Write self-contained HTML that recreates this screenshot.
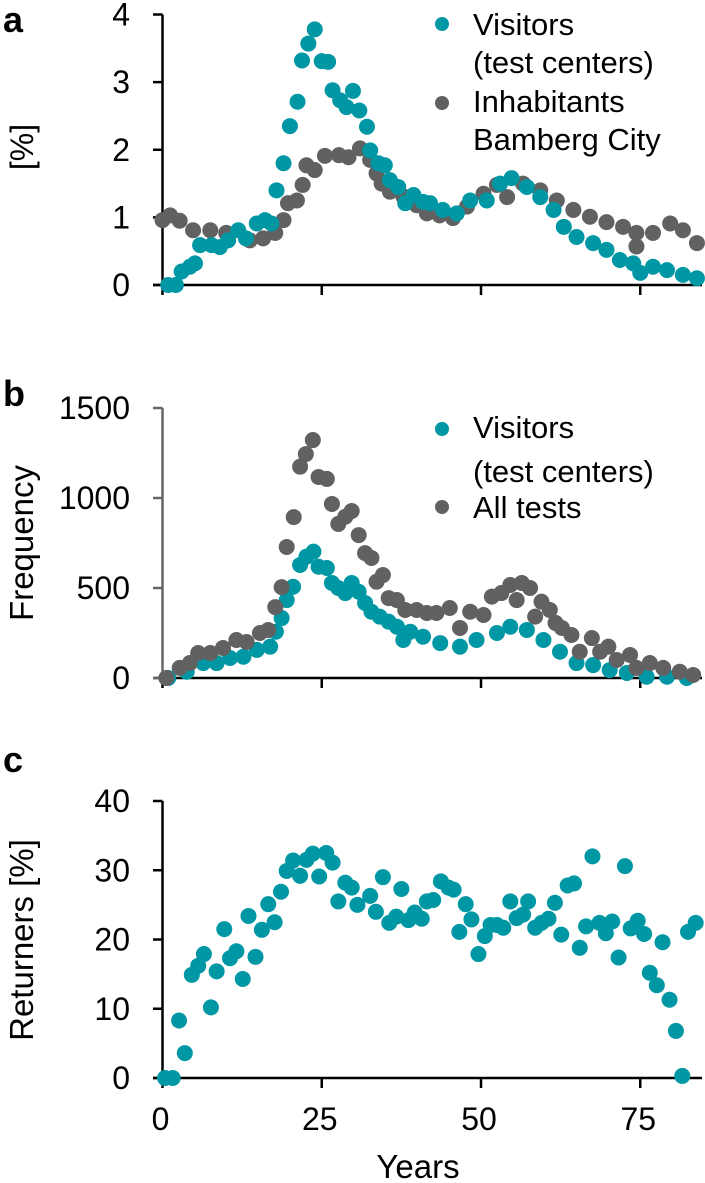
<!DOCTYPE html>
<html><head><meta charset="utf-8"><style>
body{margin:0;background:#fff;}
svg{display:block;font-family:"Liberation Sans",Arial,sans-serif;}
</style></head><body>
<svg id="fig" width="705" height="1183" viewBox="0 0 705 1183">
<text x="3" y="32" font-size="36" font-weight="bold">a</text>
<text x="3" y="406" font-size="36" font-weight="bold">b</text>
<text x="3" y="772" font-size="36" font-weight="bold">c</text>
<text transform="translate(33,147) rotate(-90)" text-anchor="middle" font-size="32">[%]</text>
<text transform="translate(33,543) rotate(-90)" text-anchor="middle" font-size="33">Frequency</text>
<text transform="translate(33,940) rotate(-90)" text-anchor="middle" font-size="33">Returners [%]</text>
<text x="418" y="1178" text-anchor="middle" font-size="33">Years</text>
<g>
<circle cx="442" cy="24" r="7" fill="#0097a4"/>
<text x="473" y="35" font-size="31">Visitors</text>
<text x="473" y="73" font-size="31">(test centers)</text>
<circle cx="442" cy="103" r="7" fill="#616161"/>
<text x="473" y="112" font-size="31">Inhabitants</text>
<text x="473" y="150" font-size="31">Bamberg City</text>
</g>
<g>
<circle cx="442" cy="429" r="7" fill="#0097a4"/>
<text x="473" y="438" font-size="31">Visitors</text>
<text x="473" y="482" font-size="31">(test centers)</text>
<circle cx="442" cy="507" r="7" fill="#616161"/>
<text x="473" y="518" font-size="31">All tests</text>
</g>
<g id="plots"></g>
</svg>
<script>
// Panel a
const aTealX=[0.9,2.1,3,4.3,5.1,5.9,7.7,9.0,10.3,11.9,13.1,14.8,16.1,17.1,17.9,19.0,20.0,21.2,21.9,22.9,23.9,25.0,26.0,26.7,27.9,28.9,29.9,30.9,32.1,32.6,33.9,34.9,35.7,37.0,38.1,39.4,40.9,42,44,46.2,48.3,50.9,53,54.8,57.2,59.3,61.4,63,65,67.6,69.7,71.8,73.9,75,77,79.2,81.7,83.9];
const aTealY=[0,0,0.2,0.27,0.32,0.59,0.59,0.56,0.66,0.81,0.69,0.91,0.96,0.91,1.40,1.80,2.35,2.71,3.32,3.57,3.78,3.31,3.30,2.88,2.73,2.63,2.87,2.58,2.34,1.99,1.80,1.77,1.55,1.45,1.21,1.33,1.23,1.21,1.11,1.06,1.25,1.25,1.50,1.58,1.45,1.30,1.11,0.86,0.71,0.62,0.52,0.37,0.32,0.18,0.27,0.22,0.15,0.10];
const aGrayX=[0,1.2,2.7,4.8,7.5,10,13.7,15.8,17.7,19,19.7,21.1,22,22.6,23.9,25.5,27.7,29.2,31,32.6,33.6,34.4,35.7,37.8,39.9,41.5,43.5,45.6,47.8,50.4,52.5,54.1,56.6,59.3,61.9,64.5,67.1,69.7,72.3,74.4,74.4,77,79.7,81.7,83.9];
const aGrayY=[0.96,1.03,0.95,0.81,0.81,0.77,0.66,0.69,0.77,0.96,1.21,1.25,1.48,1.77,1.70,1.91,1.92,1.89,2.02,1.85,1.65,1.50,1.38,1.31,1.18,1.06,1.03,0.99,1.16,1.35,1.48,1.30,1.50,1.40,1.25,1.11,1.01,0.93,0.86,0.57,0.77,0.77,0.91,0.81,0.62];
const aTicks=[0,1,2,3,4];
// Panel b
const bGrayX=[0.6,2.7,4.3,5.6,7.5,9.5,11.6,13.2,15.3,16.6,17.7,18.7,19.5,20.6,21.6,22.5,23.6,24.5,25.8,26.6,27.6,28.7,29.7,30.8,31.8,32.8,33.6,34.6,35.5,36.8,38.1,39.9,41.5,43,45.1,46.7,48.3,50.4,51.7,53.2,54.6,55.6,56.4,57.7,58.5,59.5,60.8,61.7,62.7,64.2,65.5,67.4,68.7,70,71.3,73.4,74.4,76.5,78.6,81.2,83.3];
const bGrayY=[0,56,83,139,139,167,211,200,250,267,394,505,728,894,1174,1244,1322,1117,1106,967,856,896,928,794,694,667,535,572,444,433,378,378,361,361,389,278,368,350,452,472,517,433,528,500,341,424,378,306,278,239,146,222,146,174,100,128,56,83,56,35,17];
const bTealX=[0.9,3.8,6.4,8.5,10.6,12.7,14.8,16.9,17.8,18.7,19.5,20.5,21.6,22.6,23.7,24.5,25.8,26.6,27.6,28.7,29.7,30.8,31.8,32.8,34.1,35.5,36.8,37.8,38.9,40.9,43.6,46.7,49.3,52.5,54.6,57.2,59.8,62.4,65,67.6,70.2,72.9,76,79.2,82.3];
const bTealY=[0,35,83,83,111,118,156,174,257,333,433,507,628,674,702,618,611,528,500,472,528,479,417,368,341,313,285,211,257,229,194,174,211,250,285,267,211,146,83,72,44,28,7,7,0];
const bTicks=[0,500,1000,1500];
// Panel c
const cX=[0.4,1.6,2.6,3.5,4.6,5.6,6.5,7.6,8.5,9.7,10.6,11.6,12.6,13.5,14.6,15.6,16.6,17.6,18.6,19.5,20.5,21.6,22.6,23.6,24.6,25.7,26.7,27.6,28.7,29.7,30.6,32.6,33.5,34.6,35.6,36.7,37.5,38.6,39.6,40.7,41.5,42.5,43.7,44.9,45.7,46.6,47.6,48.5,49.6,50.6,51.5,52.5,53.5,54.6,55.6,56.6,57.4,58.5,59.5,60.6,61.6,62.6,63.6,64.6,65.5,66.5,67.5,68.6,69.6,70.6,71.6,72.6,73.5,74.6,75.6,76.5,77.6,78.5,79.6,80.6,81.6,82.5,83.7];
const cY=[0,0,8.3,3.6,14.9,16.2,17.9,10.2,15.4,21.5,17.3,18.3,14.3,23.4,17.5,21.4,25.1,22.5,26.9,29.9,31.4,29.2,31.5,32.4,29.1,32.5,31.1,25.5,28.2,27.5,25.0,26.3,24.0,29.0,22.4,23.3,27.3,22.8,23.9,23.0,25.5,25.7,28.4,27.5,27.2,21.1,25.1,22.9,17.9,20.5,22.1,22.1,21.7,25.5,23.1,23.6,25.5,21.7,22.4,23.0,25.3,20.7,27.8,28.1,18.8,21.9,32.0,22.4,20.9,22.6,17.4,30.6,21.6,22.7,20.8,15.2,13.4,19.6,11.3,6.8,0.3,21.1,22.4];
const cTicks=[0,10,20,30,40];
const xTicks=[0,25,50,75];

const NS="http://www.w3.org/2000/svg";
const root=document.getElementById('plots');
const TEAL="#0097a4", GRAY="#616161";
function xs(v){return 162.5+6.37*v;}
function mk(tag,attrs,parent){const e=document.createElementNS(NS,tag);for(const k in attrs)e.setAttribute(k,attrs[k]);(parent||root).appendChild(e);return e;}
function panel(id,y0,y1,vmax,ticks,yAxisColor,showXLabels){
  const ys=v=>y0-(y0-y1)*v/vmax;
  const g=mk('g',{});
  
  
  const ya=mk('line',{x1:162.5,x2:162.5,y1:y1,y2:y0,stroke:yAxisColor,'stroke-width':2.5},g);
  
  
  const xa=mk('line',{x1:153,x2:702,y1:y0,y2:y0,stroke:'#000','stroke-width':2.5},g);
  
  
  ticks.forEach(t=>{
    mk('line',{x1:153,x2:162.5,y1:ys(t),y2:ys(t),stroke:yAxisColor,'stroke-width':2.5},g);
    const tx=mk('text',{x:130,y:ys(t)+11,'text-anchor':'end','font-size':32},g);
    tx.textContent=t;
    
    
  });
  xTicks.forEach(t=>{
    mk('line',{x1:xs(t),x2:xs(t),y1:y0,y2:y0+10,stroke:'#000','stroke-width':2.5},g);
    if(showXLabels){
      const tx=mk('text',{x:xs(t)-2,y:y0+52,'text-anchor':'middle','font-size':32},g);
      tx.textContent=t;
      
      
    }
  });
  return {g,ys};
}
function dots(p,X,Y,color,name,r){
  for(let i=0;i<X.length;i++){
    const c=mk('circle',{cx:xs(X[i]),cy:p.ys(Y[i]),r:r,fill:color},p.g);
    
    
  }
}
const pa=panel('a',285,14.5,4,aTicks,'#000',false);
dots(pa,aGrayX,aGrayY,GRAY,'inhabitants-point',8);
dots(pa,aTealX,aTealY,TEAL,'visitors-point',8);
const pb=panel('b',678,408,1500,bTicks,'#666',false);
dots(pb,bTealX,bTealY,TEAL,'visitors-frequency-point',8);
dots(pb,bGrayX,bGrayY,GRAY,'all-tests-point',8);
const pc=panel('c',1078,801,40,cTicks,'#000',true);
dots(pc,cX,cY,TEAL,'returners-point',8);
</script>
</body></html>
